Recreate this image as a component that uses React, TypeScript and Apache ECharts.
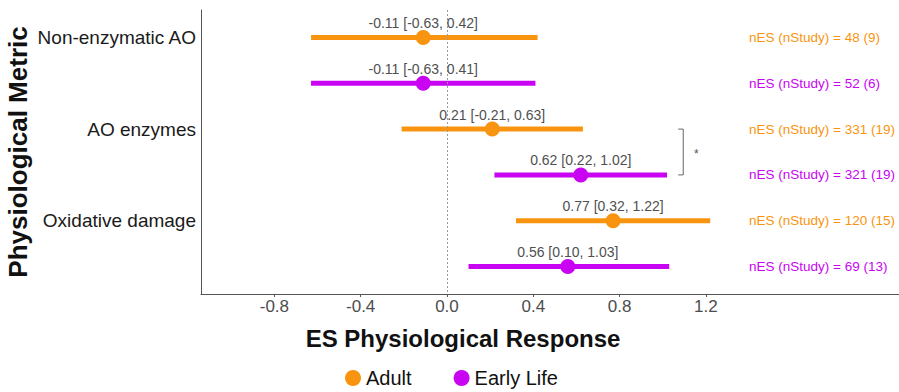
import React, { useEffect, useRef } from "react";
import * as echarts from "echarts";

const categories = ["Non-enzymatic AO", "AO enzymes", "Oxidative damage"];
const groups = ["Adult", "Early Life"];

const adultES = [-0.11, 0.21, 0.77];
const adultLo = [-0.63, -0.21, 0.32];
const adultHi = [0.42, 0.63, 1.22];
const adultNES = [48, 331, 120];
const adultNStudy = [9, 19, 15];

const earlyES = [-0.11, 0.62, 0.56];
const earlyLo = [-0.63, 0.22, 0.1];
const earlyHi = [0.41, 1.02, 1.03];
const earlyNES = [52, 321, 69];
const earlyNStudy = [6, 19, 13];

const xTicks = [-0.8, -0.4, 0.0, 0.4, 0.8, 1.2];

const ORANGE = "#F99410";
const PURPLE = "#C904F2";
const FONT = "'Liberation Sans', Arial, Helvetica, sans-serif";

const ANNOT_X = 1.4;
const BRACKET_X = 1.095;

function fmt(v: number) {
  return v.toFixed(2);
}

function buildRows(es: number[], lo: number[], hi: number[], nes: number[], nst: number[], offset: number) {
  return es.map((e, i) => [lo[i], hi[i], i * 2 + offset, e, nes[i], nst[i]]);
}

export default function App() {
  const ref = useRef<HTMLDivElement>(null);

  useEffect(() => {
    if (!ref.current) return;
    const chart = echarts.init(ref.current, undefined, { renderer: "svg" });

    const adultRows = buildRows(adultES, adultLo, adultHi, adultNES, adultNStudy, 0);
    const earlyRows = buildRows(earlyES, earlyLo, earlyHi, earlyNES, earlyNStudy, 1);

    const errRender = (color: string) => (params: any, api: any) => {
      const lo = api.value(0);
      const hi = api.value(1);
      const y = api.value(2);
      const nes = api.value(4);
      const nst = api.value(5);
      const p1 = api.coord([lo, y]);
      const p2 = api.coord([hi, y]);
      const pt = api.coord([ANNOT_X, y]);
      return {
        type: "group",
        children: [
          {
            type: "line",
            shape: { x1: p1[0], y1: p1[1], x2: p2[0], y2: p2[1] },
            style: { stroke: color, lineWidth: 5, lineCap: "butt" },
          },
          {
            type: "text",
            x: pt[0],
            y: pt[1],
            style: {
              text: `nES (nStudy) = ${nes} (${nst})`,
              fill: color,
              font: `13.5px ${FONT}`,
              align: "left",
              verticalAlign: "middle",
              textAlign: "left",
              textVerticalAlign: "middle",
            },
          },
        ],
      };
    };

    const pointLabel = {
      show: true,
      position: "top",
      distance: 0,
      fontSize: 14,
      fontFamily: FONT,
      color: "#505050",
      formatter: (p: any) => `${fmt(p.value[0])} [${fmt(p.value[2])}, ${fmt(p.value[3])}]`,
    };

    const option: any = {
      animation: false,
      textStyle: { fontFamily: FONT },
      grid: { left: 201, right: 0, top: 10, bottom: 98, containLabel: false },
      xAxis: {
        type: "value",
        min: -1.14,
        max: 2.095,
        axisLine: { show: true, onZero: false, lineStyle: { color: "#555", width: 1 } },
        axisTick: {
          show: true,
          customValues: xTicks,
          length: 3,
          lineStyle: { color: "#555" },
        },
        axisLabel: {
          customValues: xTicks,
          formatter: (v: number) => v.toFixed(1),
          fontSize: 17,
          color: "#4d4d4d",
          margin: 4,
          fontFamily: FONT,
        },
        splitLine: { show: false },
      },
      yAxis: {
        type: "value",
        inverse: true,
        min: -0.6,
        max: 5.6,
        axisLine: { show: true, onZero: false, lineStyle: { color: "#555", width: 1 } },
        axisTick: { show: false },
        splitLine: { show: false },
        axisLabel: {
          customValues: [0, 2, 4],
          formatter: (v: number) => categories[Math.round(v / 2)] ?? "",
          fontSize: 19,
          color: "#1a1a1a",
          margin: 5,
          fontFamily: FONT,
        },
      },
      legend: {
        left: 340,
        top: 363,
        itemWidth: 16,
        itemHeight: 16,
        itemGap: 42,
        textStyle: { fontSize: 20, color: "#111", fontFamily: FONT },
        data: [
          { name: groups[0], icon: "circle", itemStyle: { color: ORANGE } },
          { name: groups[1], icon: "circle", itemStyle: { color: PURPLE } },
        ],
      },
      graphic: [
        {
          type: "text",
          x: 463,
          y: 338,
          style: {
            text: "ES Physiological Response",
            font: `bold 24px ${FONT}`,
            fill: "#111",
            textAlign: "center",
            textVerticalAlign: "middle",
          },
        },
        {
          type: "text",
          x: 18,
          y: 152,
          rotation: Math.PI / 2,
          style: {
            text: "Physiological Metric",
            font: `bold 26px ${FONT}`,
            fill: "#111",
            textAlign: "center",
            textVerticalAlign: "middle",
          },
        },
      ],
      series: [
        {
          name: groups[0],
          type: "custom",
          renderItem: errRender(ORANGE),
          encode: { x: [0, 1], y: 2 },
          data: adultRows,
          z: 2,
          itemStyle: { color: ORANGE },
          markLine: {
            silent: true,
            symbol: "none",
            label: { show: false },
            lineStyle: { color: "#999", type: [2, 2], width: 1 },
            data: [{ xAxis: 0 }],
          },
        },
        {
          name: groups[1],
          type: "custom",
          renderItem: errRender(PURPLE),
          encode: { x: [0, 1], y: 2 },
          data: earlyRows,
          z: 2,
          itemStyle: { color: PURPLE },
        },
        {
          name: groups[0],
          type: "scatter",
          symbol: "circle",
          symbolSize: 15,
          itemStyle: { color: ORANGE, opacity: 1 },
          label: pointLabel,
          data: adultRows.map((r) => [r[3], r[2], r[0], r[1]]),
          z: 5,
        },
        {
          name: groups[1],
          type: "scatter",
          symbol: "circle",
          symbolSize: 15,
          itemStyle: { color: PURPLE, opacity: 1 },
          label: pointLabel,
          data: earlyRows.map((r) => [r[3], r[2], r[0], r[1]]),
          z: 5,
        },
        {
          name: "bracket",
          type: "custom",
          silent: true,
          data: [[BRACKET_X, 2, 3]],
          encode: { x: 0, y: [1, 2] },
          renderItem: (params: any, api: any) => {
            const top = api.coord([api.value(0), api.value(1)]);
            const bot = api.coord([api.value(0), api.value(2)]);
            const x = top[0];
            return {
              type: "group",
              children: [
                {
                  type: "polyline",
                  shape: {
                    points: [
                      [x - 5, top[1]],
                      [x, top[1]],
                      [x, bot[1]],
                      [x - 5, bot[1]],
                    ],
                  },
                  style: { stroke: "#666", lineWidth: 1, fill: "none" },
                },
                {
                  type: "text",
                  x: x + 13,
                  y: (top[1] + bot[1]) / 2 + 2,
                  style: {
                    text: "*",
                    fill: "#555",
                    font: `12px ${FONT}`,
                    align: "center",
                    verticalAlign: "middle",
                    textAlign: "center",
                    textVerticalAlign: "middle",
                  },
                },
              ],
            };
          },
        },
      ],
    };

    chart.setOption(option);
    return () => chart.dispose();
  }, []);

  return (
    <div
      ref={ref}
      style={{ position: "fixed", left: 0, top: 0, width: 899, height: 392, background: "#fff" }}
    />
  );
}
